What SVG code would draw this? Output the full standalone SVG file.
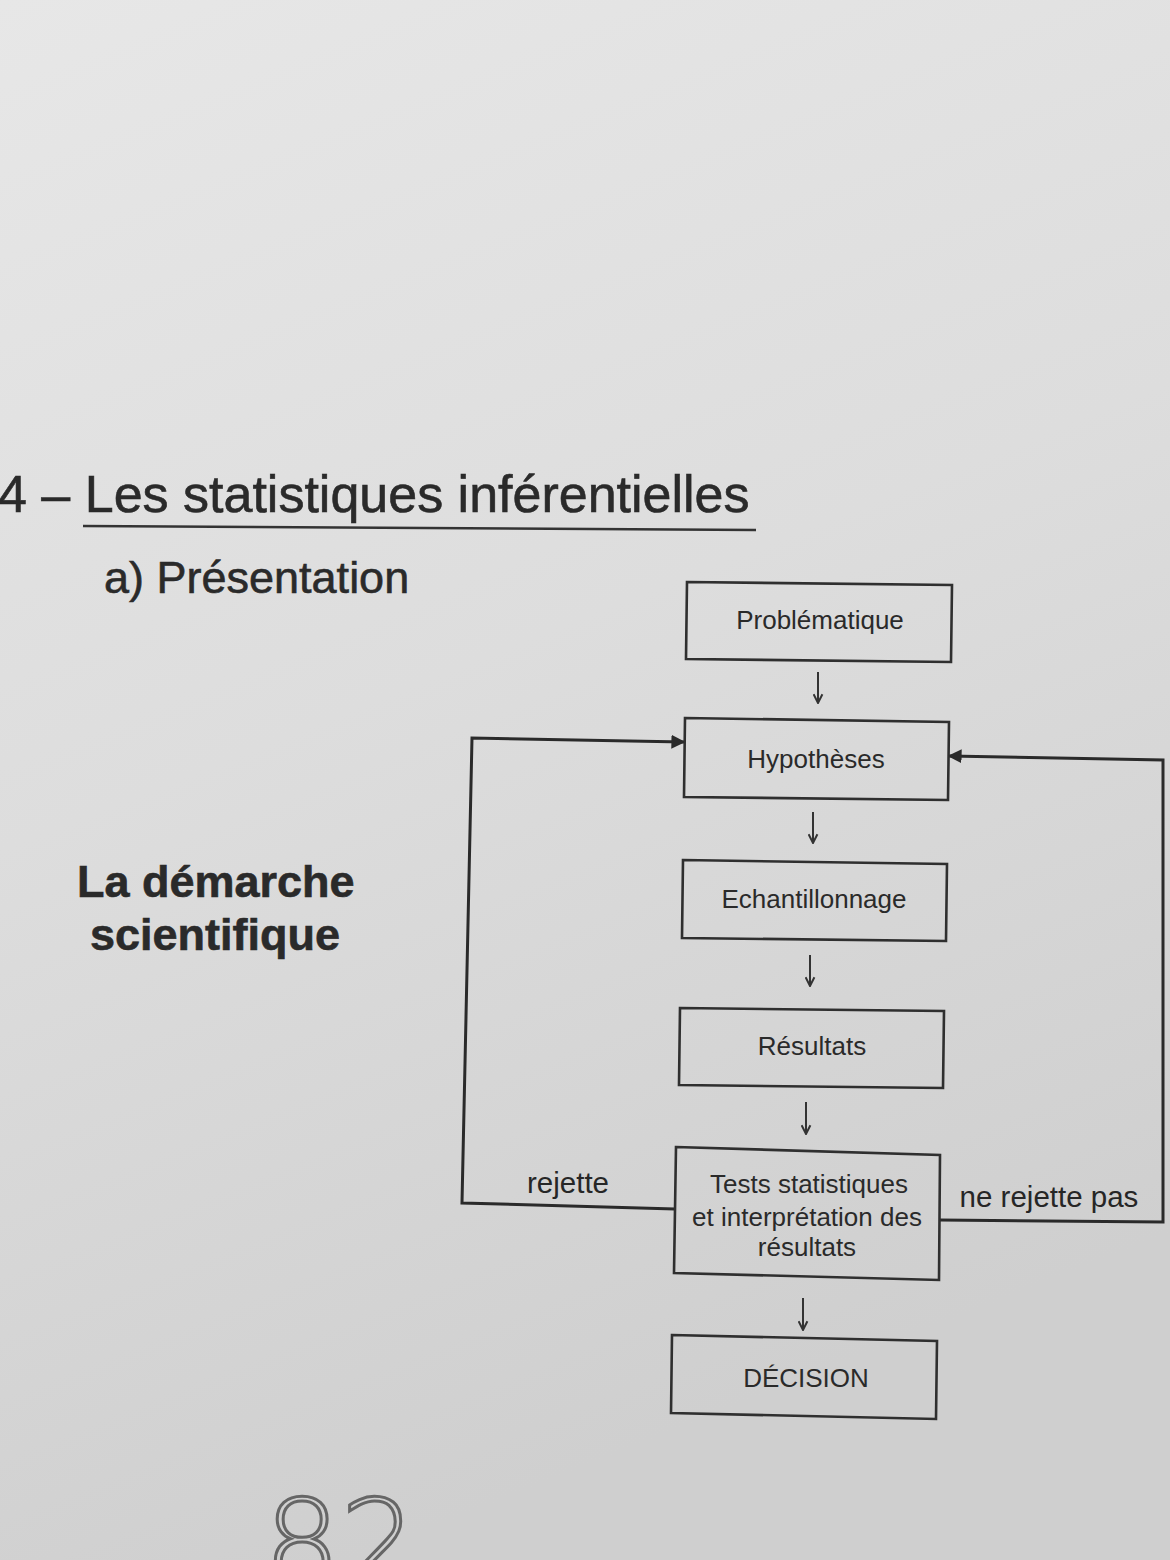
<svg xmlns="http://www.w3.org/2000/svg" width="1170" height="1560" viewBox="0 0 1170 1560">
  <defs>
    <linearGradient id="paper" x1="0" y1="0" x2="0.3" y2="1">
      <stop offset="0" stop-color="#e7e7e7"/>
      <stop offset="0.5" stop-color="#dddddd"/>
      <stop offset="1" stop-color="#cfcfcf"/>
    </linearGradient>
    <marker id="open" viewBox="0 0 10 10" refX="9" refY="5" markerWidth="11" markerHeight="11" markerUnits="userSpaceOnUse" orient="auto">
      <path d="M1,1 L9,5 L1,9" fill="none" stroke="#333" stroke-width="1.8"/>
    </marker>
    <marker id="solid" viewBox="0 0 10 10" refX="9" refY="5" markerWidth="14" markerHeight="14" markerUnits="userSpaceOnUse" orient="auto">
      <path d="M0,0 L10,5 L0,10 Z" fill="#2a2a2a"/>
    </marker>
    <style>
      .box { fill: none; stroke: #2f2f2f; stroke-width: 2.6; }
      .lbl { font-family: "Liberation Sans", Arial, sans-serif; font-size: 26px; fill: #2a2a2a; text-anchor: middle; }
      .side { font-family: "Liberation Sans", Arial, sans-serif; font-size: 29.5px; fill: #262626; text-anchor: middle; }
      .head { font-family: "Liberation Sans", Arial, sans-serif; fill: #2a2a2a; stroke: #2a2a2a; stroke-width: 0.6; }
      .down { stroke: #333; stroke-width: 2; fill: none; marker-end: url(#open); }
      .loop { stroke: #2a2a2a; stroke-width: 3; fill: none; marker-end: url(#solid); }
    </style>
  </defs>

  <rect width="1170" height="1560" fill="url(#paper)"/>

  <!-- headings -->
  <text class="head" x="-2" y="512" font-size="52">4 – Les statistiques inférentielles</text>
  <line x1="83" y1="526" x2="756" y2="530" stroke="#333" stroke-width="2.5"/>
  <text class="head" x="104" y="593" font-size="45">a) Présentation</text>
  <text class="head" x="77" y="897" font-size="45" font-weight="bold">La démarche</text>
  <text class="head" x="90" y="950" font-size="45" font-weight="bold">scientifique</text>

  <!-- connectors -->
  <g id="connectors">
    <line class="down" x1="818" y1="672" x2="818" y2="703"/>
    <line class="down" x1="813" y1="812" x2="813" y2="843"/>
    <line class="down" x1="810" y1="955" x2="810" y2="986"/>
    <line class="down" x1="806" y1="1102" x2="806" y2="1134"/>
    <line class="down" x1="803" y1="1298" x2="803" y2="1330"/>
    <!-- rejection loop back to the hypotheses -->
    <polyline class="loop" points="675,1209 462,1203 472,738 684,742"/>
    <!-- non-rejection loop back to the hypotheses -->
    <polyline class="loop" points="940,1220 1163,1222 1163,760 949,756"/>
  </g>

  <!-- nodes -->
  <g id="problematique">
    <polygon class="box" points="687,582 952,585 951,662 686,659"/>
    <text class="lbl" x="820" y="629">Problématique</text>
  </g>
  <g id="hypotheses">
    <polygon class="box" points="685,718 949,722 948,800 684,797"/>
    <text class="lbl" x="816" y="768">Hypothèses</text>
  </g>
  <g id="echantillonnage">
    <polygon class="box" points="683,860 947,864 946,941 682,938"/>
    <text class="lbl" x="814" y="908">Echantillonnage</text>
  </g>
  <g id="resultats">
    <polygon class="box" points="680,1008 944,1011 943,1088 679,1085"/>
    <text class="lbl" x="812" y="1055">Résultats</text>
  </g>
  <g id="tests">
    <polygon class="box" points="676,1147 940,1155 939,1280 674,1273"/>
    <text class="lbl" x="809" y="1193">Tests statistiques</text>
    <text class="lbl" x="807" y="1226">et interprétation des</text>
    <text class="lbl" x="807" y="1256">résultats</text>
  </g>
  <g id="decision">
    <polygon class="box" points="672,1335 937,1341 936,1419 671,1413"/>
    <text class="lbl" x="806" y="1387">DÉCISION</text>
  </g>

  <!-- branch labels -->
  <text class="side" x="568" y="1193">rejette</text>
  <text class="side" x="1049" y="1207">ne rejette pas</text>

  <!-- handwritten page number -->
  <text x="264" y="1585" font-family="'DejaVu Sans', sans-serif" font-size="120" font-weight="200" fill="none" stroke="#666" stroke-width="3">82</text>
</svg>
